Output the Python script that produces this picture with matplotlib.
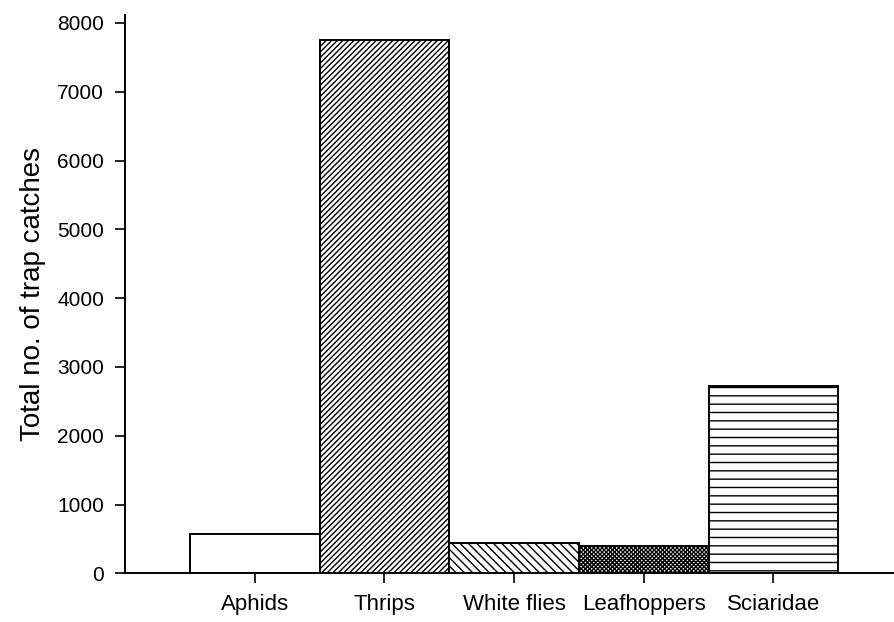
import matplotlib.pyplot as plt

plt.rcParams['font.family'] = ['Liberation Sans', 'DejaVu Sans']
plt.rcParams['hatch.linewidth'] = 1.0

categorias = ["Aphids", "Thrips", "White flies", "Leafhoppers", "Sciaridae"]
capturas = [567, 7752, 436, 401, 2727]
tramas = ["", "//////", "\\\\\\\\", "xxxxxxxx", "--"]

fig = plt.figure(figsize=(8.94, 6.22), dpi=100)
ax = fig.add_axes([125/894, (622-573.3)/622, (894-125)/894, (573.3-15)/622])

for i in range(len(categorias)):
    ax.bar(i, capturas[i], width=1.0, color="white", edgecolor="black",
           linewidth=1.4, hatch=tramas[i])

ax.set_xlim(-1, 4.93)
ax.set_ylim(0, 8116)
ax.set_yticks(range(0, 8001, 1000))
ax.set_xticks(range(len(categorias)))
ax.set_xticklabels(categorias)

ax.spines["top"].set_visible(False)
ax.spines["right"].set_visible(False)
ax.spines["left"].set_linewidth(1.4)
ax.spines["bottom"].set_linewidth(1.4)
ax.tick_params(axis="both", direction="out", length=7, width=1.2, labelsize=15, pad=8)
for etiqueta in ax.get_xticklabels():
    etiqueta.set_fontsize(16)

ax.set_ylabel("Total no. of trap catches", fontsize=20, labelpad=8)

plt.savefig("out.png", dpi=100)
